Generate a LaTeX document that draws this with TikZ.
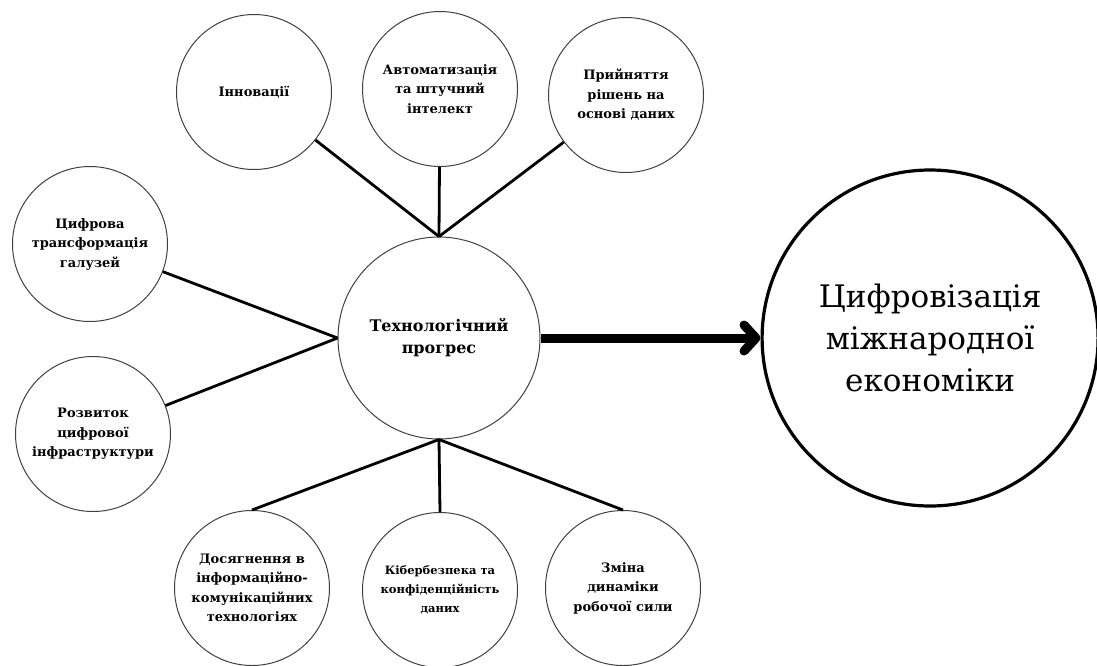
\documentclass[tikz,border=0pt]{standalone}
\usepackage{fontspec}
\setmainfont{DejaVu Serif}
\usetikzlibrary{arrows.meta, positioning}

\begin{document}
\begin{tikzpicture}[x=1pt, y=-1pt,
	topic/.style={circle, draw=black!75, line width=1pt, inner sep=0pt, minimum size=155pt, align=center, font=\bfseries\fontsize{13}{19.5}\selectfont},
	hub/.style={topic, minimum size=202pt, font=\bfseries\fontsize{16}{22}\selectfont},
	goal/.style={circle, draw=black, line width=3.2pt, inner sep=0pt, minimum size=336pt, align=center, font=\fontsize{31}{42}\selectfont},
	spoke/.style={line width=2.8pt}]
	\useasboundingbox (0,0) rectangle (1097,665);

	% Nodes
	\node[hub] (tech) at (439,338) {Технологічний\\прогрес};
	\node[goal, right=220pt of tech] (goal) {Цифровізація\\міжнародної\\економіки};

	\node[topic] (innov) at (254,92) {Інновації};
	\node[topic] (auto) at (440,89) {Автоматизація\\та штучний\\інтелект};
	\node[topic] (decis) at (626,95) {Прийняття\\рішень на\\основі даних};

	\node[topic] (transf) at (90,244) {Цифрова\\трансформація\\галузей};
	\node[topic] (infra) at (93,434) {Розвиток\\цифрової\\інфраструктури};

	\node[topic] (ict) at (252,588) {Досягнення в\\інформаційно-\\комунікаційних\\технологіях};
	\node[topic, font=\bfseries\fontsize{11.5}{19}\selectfont] (cyber) at (440,590) {Кібербезпека та\\конфіденційність\\даних};
	\node[topic] (workf) at (623,588) {Зміна\\динаміки\\робочої сили};

	% Spokes from the top
	\draw[spoke] (tech.north) -- (innov);
	\draw[spoke] (tech.north) -- (auto);
	\draw[spoke] (tech.north) -- (decis);

	% Spokes to the left
	\draw[spoke] (tech.west) -- (transf);
	\draw[spoke] (tech.west) -- (infra);

	% Spokes to the bottom
	\draw[spoke] (tech.south) -- (ict.north);
	\draw[spoke] (tech.south) -- (cyber.north);
	\draw[spoke] (tech.south) -- (workf.north);

	% Main arrow
	\draw[line width=9pt, -{Straight Barb[length=12pt, width=26pt, round]}] (tech) -- (goal);
\end{tikzpicture}
\end{document}
